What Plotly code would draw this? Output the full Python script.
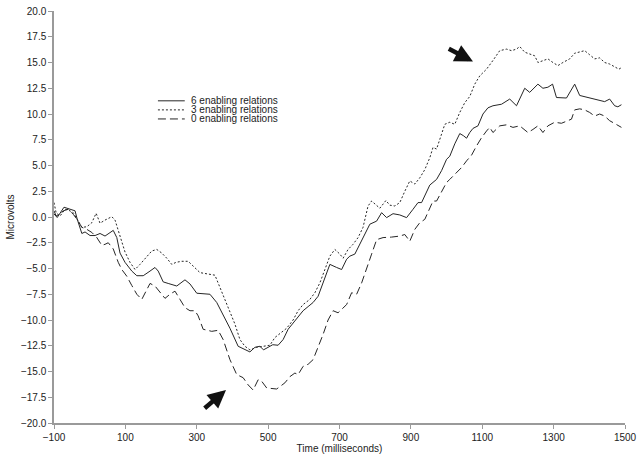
import plotly.graph_objects as go

# 6 enabling relations (solid)
t6 = [-100, -91, -72, -57, -41, -35, -22, -13, 1, 15, 29, 43, 55, 66, 76, 85, 99, 118, 132, 150,
      169, 183, 192, 206, 220, 244, 267, 281, 300, 337, 356, 374, 393, 416, 435, 449, 463, 477, 487,
      500, 513, 528, 542, 556, 570, 584, 598, 612, 626, 640, 654, 673, 692, 706, 720, 729, 743, 757,
      771, 785, 804, 818, 832, 850, 869, 888, 906, 920, 930, 944, 953, 972, 986, 1000, 1009, 1023,
      1037, 1047, 1056, 1065, 1074, 1088, 1102, 1116, 1130, 1154, 1177, 1196, 1219, 1233, 1256, 1270,
      1284, 1297, 1308, 1336, 1359, 1373, 1397, 1415, 1434, 1443, 1457, 1471, 1480, 1490]
v6 = [0.3, -0.05, 0.95, 0.8, 0.6, -0.2, -1.6, -1.45, -1.8, -1.8, -1.6, -1.85, -1.6, -1.3, -2.0, -3.5,
      -4.4, -5.25, -5.7, -5.7, -5.25, -4.9, -5.25, -6.3, -6.45, -6.7, -6.1, -6.5, -7.4, -7.5, -8.3,
      -9.5, -10.8, -12.55, -12.9, -13.1, -12.65, -12.55, -12.9, -12.65, -12.4, -12.45, -11.9, -10.9,
      -10.3, -9.8, -9.1, -8.7, -8.3, -7.7, -6.4, -4.6, -4.9, -5.1, -4.1, -3.8, -3.6, -2.65, -1.7, -0.7,
      -0.4, 0.42, -0.06, 0.32, 0.2, -0.06, 0.75, 1.4, 1.4, 2.5, 3.1, 3.65, 4.5, 5.6, 5.9, 7.1, 8.1, 7.9,
      7.65, 8.2, 8.6, 8.85, 10.0, 10.6, 10.8, 10.95, 11.45, 10.8, 12.5, 12.1, 12.9, 12.5, 12.6, 12.9,
      11.6, 11.55, 12.9, 11.8, 11.6, 11.45, 11.3, 11.2, 11.45, 10.8, 10.7, 10.9]

# 3 enabling relations (dotted)
t3 = [-100, -94, -83, -69, -60, -46, -32, -22, -8, 6, 18, 29, 43, 62, 71, 85, 99, 113, 127, 141,
      160, 174, 188, 202, 216, 230, 242, 258, 276, 290, 309, 351, 370, 388, 407, 421, 435, 449, 468,
      487, 505, 519, 533, 552, 570, 584, 598, 617, 631, 645, 659, 673, 687, 701, 710, 724, 738, 752,
      766, 780, 790, 804, 813, 830, 841, 855, 869, 883, 897, 911, 925, 939, 953, 962, 972, 986, 995,
      1009, 1023, 1037, 1051, 1065, 1079, 1093, 1112, 1130, 1149, 1168, 1182, 1196, 1205, 1219, 1233,
      1247, 1256, 1270, 1284, 1298, 1312, 1326, 1345, 1359, 1373, 1387, 1401, 1415, 1429, 1443, 1457,
      1471, 1483, 1490]
v3 = [1.4, 0.4, 0.1, 0.75, 0.68, 0.42, -0.4, -1.0, -0.95, -0.55, 0.36, -0.6, -0.3, 0.03, -0.3, -1.85,
      -3.4, -4.4, -5.1, -4.6, -3.8, -3.3, -3.15, -3.5, -4.0, -4.6, -4.4, -4.3, -4.3, -4.8, -5.4, -5.65,
      -7.2, -8.8, -10.4, -11.9, -12.55, -12.9, -12.65, -12.55, -12.45, -11.7, -11.35, -10.8, -10.0,
      -9.1, -8.5, -8.0, -7.35, -6.4, -5.1, -3.8, -3.15, -3.6, -4.0, -3.15, -2.65, -2.0, -1.0, 1.07,
      1.55, 1.07, 0.85, 1.6, 1.15, 1.07, 1.4, 2.5, 3.5, 3.2, 3.8, 4.6, 5.75, 6.75, 6.6, 8.05, 9.0, 9.2,
      9.0, 10.15, 11.1, 11.7, 12.9, 13.7, 14.35, 15.2, 16.15, 16.3, 16.15, 16.3, 16.55, 16.0, 15.8,
      15.65, 15.0, 15.2, 15.35, 15.0, 14.7, 15.0, 15.35, 15.9, 16.0, 16.15, 15.75, 15.35, 15.45, 15.0,
      14.85, 14.6, 14.35, 14.5]

# 0 enabling relations (dashed)
t0 = [-100, -94, -83, -74, -60, -46, -36, -22, -8, 6, 20, 34, 43, 52, 66, 80, 90, 104, 118, 132,
      146, 155, 169, 183, 197, 211, 225, 239, 253, 267, 281, 295, 304, 318, 342, 360, 374, 393, 412,
      430, 444, 458, 472, 482, 496, 524, 547, 561, 575, 584, 598, 612, 626, 640, 654, 668, 682, 696,
      720, 734, 748, 762, 776, 790, 804, 822, 846, 869, 883, 897, 911, 925, 939, 953, 962, 972, 986,
      1000, 1009, 1028, 1042, 1056, 1070, 1084, 1098, 1112, 1121, 1130, 1149, 1168, 1186, 1205, 1219,
      1228, 1242, 1256, 1270, 1284, 1303, 1322, 1336, 1350, 1359, 1373, 1387, 1401, 1415, 1429, 1443,
      1457, 1475, 1490]
v0 = [0.6, 0.1, 0.3, 0.6, 0.75, 0.26, -0.2, -1.0, -1.2, -1.5, -2.0, -2.75, -2.65, -2.5, -3.1, -4.4,
      -5.1, -5.75, -6.65, -7.5, -8.0, -7.35, -6.45, -6.7, -7.35, -7.9, -7.5, -7.2, -8.0, -8.8, -9.1,
      -9.1, -9.6, -10.9, -11.1, -11.0, -11.9, -13.85, -15.3, -15.6, -16.3, -16.8, -15.8, -15.95, -16.6,
      -16.7, -16.1, -15.5, -15.15, -15.3, -14.5, -14.3, -13.85, -12.7, -11.4, -10.0, -9.1, -9.3, -8.5,
      -7.35, -7.5, -6.4, -4.9, -3.6, -2.2, -2.0, -1.95, -1.85, -1.7, -2.35, -1.2, -0.55, -0.23, 0.9,
      1.55, 1.55, 2.5, 3.35, 3.65, 4.3, 4.8, 5.45, 6.0, 6.9, 7.7, 8.35, 8.7, 8.2, 8.85, 8.95, 8.7, 8.85,
      8.5, 8.2, 8.5, 8.85, 8.2, 8.85, 9.2, 9.1, 9.3, 9.5, 10.4, 10.5, 10.4, 10.15, 9.8, 10.0, 9.8, 9.35,
      9.0, 8.7]

series_names = ["6 enabling relations", "3 enabling relations", "0 enabling relations"]
x_ticks = [-100, 100, 300, 500, 700, 900, 1100, 1300, 1500]
y_ticks = [-20, -17.5, -15, -12.5, -10, -7.5, -5, -2.5, 0, 2.5, 5, 7.5, 10, 12.5, 15, 17.5, 20]

# arrow (head_t, head_v, tail_t, tail_v)
arrows = [(382, -16.8, 318, -18.7), (1074, 15.1, 1002, 16.4)]

LINE = "#262626"
AX = "#9a9a9a"
FONT = "Liberation Sans, Arial, sans-serif"
dashes = ["solid", "2px,2px", "8px,4px"]

fig = go.Figure()
for xs, ys, name, d in zip([t6, t3, t0], [v6, v3, v0], series_names, dashes):
    fig.add_trace(go.Scatter(x=xs, y=ys, mode="lines", name=name,
                             line=dict(color=LINE, width=1, dash=d), showlegend=False))

# manual compact legend
leg_y = [0.782, 0.760, 0.738]
shapes = []
annos = []
for yy, name, d in zip(leg_y, series_names, dashes):
    shapes.append(dict(type="line", xref="paper", yref="paper", x0=0.182, x1=0.229, y0=yy, y1=yy,
                       line=dict(color=LINE, width=1, dash=d)))
    annos.append(dict(xref="paper", yref="paper", x=0.236, y=yy, text=name, showarrow=False,
                      xanchor="left", yanchor="middle", font=dict(size=10, color="#222", family=FONT)))

for hx, hy, tx, ty in arrows:
    annos.append(dict(x=hx, y=hy, ax=tx, ay=ty, xref="x", yref="y", axref="x", ayref="y",
                      text="", showarrow=True, arrowhead=2, arrowsize=0.8, arrowwidth=4.5,
                      arrowcolor="#111"))

fig.update_layout(
    width=642, height=463,
    margin=dict(l=54, r=17, t=11, b=40),
    paper_bgcolor="white", plot_bgcolor="white",
    font=dict(family=FONT, size=10, color="#222"),
    shapes=shapes, annotations=annos,
    xaxis=dict(range=[-100, 1500], tickvals=x_ticks, showgrid=False, zeroline=False,
               showline=True, linecolor=AX, linewidth=1.5, ticks="outside", ticklen=4,
               tickcolor=AX, tickwidth=1, title=dict(text="Time (milliseconds)", standoff=2,
               font=dict(size=10)), automargin=False),
    yaxis=dict(range=[-20, 20], tickvals=y_ticks, tickformat=".1f", showgrid=False, zeroline=False,
               showline=True, linecolor=AX, linewidth=1.5, ticks="outside", ticklen=4,
               tickcolor=AX, tickwidth=1, title=dict(text="Microvolts", standoff=4,
               font=dict(size=10)), automargin=False),
)

fig.write_html("out.html", config={"displayModeBar": False},
               post_script="document.body.style.margin='0';document.body.style.overflow='hidden';")
